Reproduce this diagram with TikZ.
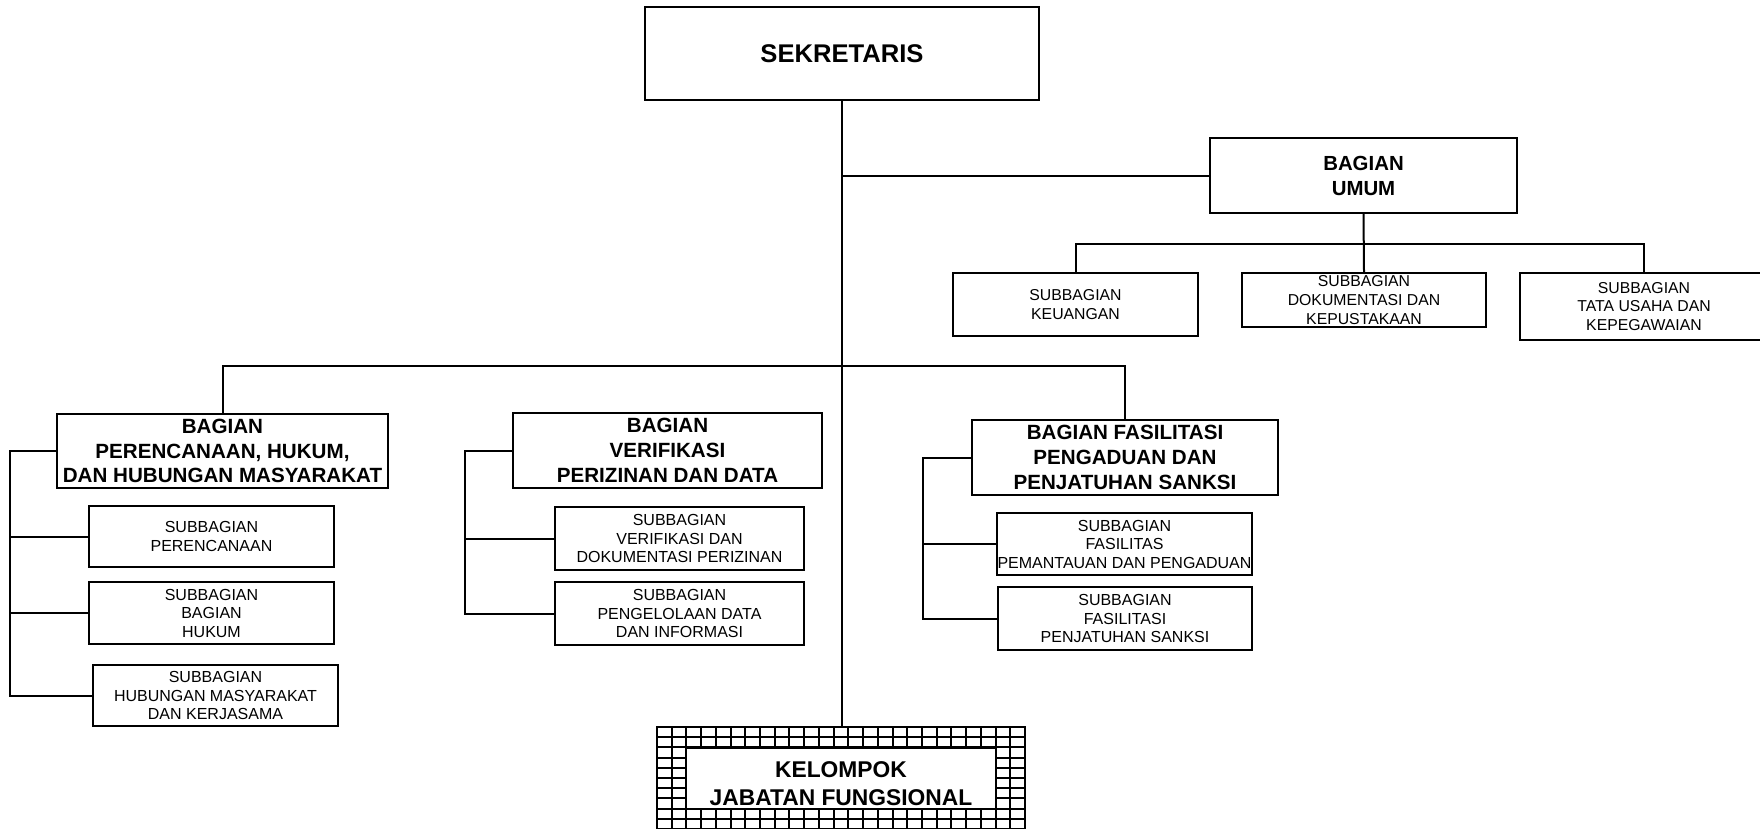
\documentclass[tikz,border=0pt]{standalone}
\usepackage{fontspec}
\setmainfont{Liberation Sans}
\begin{document}
\begin{tikzpicture}[x=0.5pt,y=-0.5pt,
  box/.style={draw, line width=1pt, inner sep=0pt, align=center},
  head/.style={box, font=\fontsize{10.3}{12.4}\selectfont\bfseries},
  sub/.style={box, font=\fontsize{8}{9.25}\selectfont},
  usub/.style={box, font=\fontsize{7.9}{9.4}\selectfont},
  conn/.style={line width=1pt},
  gridline/.style={line width=1pt}]
\path[use as bounding box] (0,0) rectangle (1760,829);
\clip (0,0) rectangle (1760,829);

% top
\node[box, minimum width=197pt, minimum height=46.5pt, font=\fontsize{12.8}{15}\selectfont\bfseries] (sek) at (842,53.5) {SEKRETARIS};

% Bagian Umum
\node[box, minimum width=153.5pt, minimum height=37.5pt, font=\fontsize{10.2}{12.5}\selectfont\bfseries] (umum) at (1363.5,175.5) {BAGIAN\\UMUM};
\node[usub, minimum width=122.5pt, minimum height=31.5pt] (keu) at (1075.5,304.5) {SUBBAGIAN\\KEUANGAN};
\node[usub, minimum width=122pt, minimum height=27pt] (dok) at (1364,300) {SUBBAGIAN\\DOKUMENTASI DAN\\KEPUSTAKAAN};
\node[usub, minimum width=124pt, minimum height=33.5pt] (tata) at (1644,306.5) {SUBBAGIAN\\TATA USAHA DAN\\KEPEGAWAIAN};

% Bagian Perencanaan
\node[head, minimum width=165.5pt, minimum height=37pt] (peren) at (222.5,451) {BAGIAN\\PERENCANAAN, HUKUM,\\DAN HUBUNGAN MASYARAKAT};
\node[sub, minimum width=122.5pt, minimum height=30.5pt] (sperenc) at (211.5,536.5) {SUBBAGIAN\\PERENCANAAN};
\node[sub, minimum width=122.5pt, minimum height=31pt] (shukum) at (211.5,613) {SUBBAGIAN\\BAGIAN\\HUKUM};
\node[sub, minimum width=122.5pt, minimum height=30.5pt] (shub) at (215.5,695.5) {SUBBAGIAN\\HUBUNGAN MASYARAKAT\\DAN KERJASAMA};

% Bagian Verifikasi
\node[head, minimum width=154.5pt, minimum height=37.5pt] (verif) at (667.5,450.5) {BAGIAN\\VERIFIKASI\\PERIZINAN DAN DATA};
\node[sub, minimum width=124.5pt, minimum height=31.5pt] (sverif) at (679.5,538.5) {SUBBAGIAN\\VERIFIKASI DAN\\DOKUMENTASI PERIZINAN};
\node[sub, minimum width=124.5pt, minimum height=31.5pt] (speng) at (679.5,613.5) {SUBBAGIAN\\PENGELOLAAN DATA\\DAN INFORMASI};

% Bagian Fasilitasi
\node[head, minimum width=153pt, minimum height=37.5pt] (fas) at (1125,457.5) {BAGIAN FASILITASI\\PENGADUAN DAN\\PENJATUHAN SANKSI};
\node[sub, minimum width=127.5pt, minimum height=31pt] (spem) at (1124.5,544) {SUBBAGIAN\\FASILITAS\\PEMANTAUAN DAN PENGADUAN};
\node[sub, minimum width=127pt, minimum height=31.5pt] (spenj) at (1125,618.5) {SUBBAGIAN\\FASILITASI\\PENJATUHAN SANKSI};

% Kelompok jabatan fungsional (grid frame)
\foreach \i in {0,...,25} \draw[gridline] ({657+\i*14.72},727) -- ({657+\i*14.72},840);
\foreach \j in {0,...,11} \draw[gridline] (657,{727+\j*10.2}) -- (1025,{727+\j*10.2});
\node[draw, line width=1pt, inner sep=0pt, minimum width=184pt, minimum height=86.5pt] (kjf) at (841,813.5) {};
\node[draw, fill=white, line width=1pt, inner sep=0pt, minimum width=155pt, minimum height=30.5pt] (kjfin) at (841,778.5) {};
\node[font=\fontsize{11.4}{14}\selectfont\bfseries, align=center, inner sep=0pt] (kjflabel) at ([yshift=-2.5pt]kjfin.center) {KELOMPOK\\JABATAN FUNGSIONAL};

% connectors
\coordinate (bus) at (842,366);
\coordinate (ubus) at (1364,244);
\coordinate (pl) at (10,451);
\coordinate (vl) at (465,451);
\coordinate (fl) at (923,457);

\draw[conn] (sek.south) -- (sek.south |- kjf.north);
\draw[conn] (sek.south |- umum.west) -- (umum.west);
\draw[conn] (umum.south) -- (dok.north);
\draw[conn] (keu.north) -- (keu.north |- ubus) -- (tata.north |- ubus) -- (tata.north);
\draw[conn] (peren.north) -- (peren.north |- bus) -- (fas.north |- bus) -- (fas.north);
\draw[conn] (peren.west) -- (pl |- peren.west) -- (pl |- shub.west) -- (shub.west);
\draw[conn] (pl |- sperenc.west) -- (sperenc.west);
\draw[conn] (pl |- shukum.west) -- (shukum.west);
\draw[conn] (verif.west) -- (vl |- verif.west) -- (vl |- speng.west) -- (speng.west);
\draw[conn] (vl |- sverif.west) -- (sverif.west);
\draw[conn] (fas.west) -- (fl |- fas.west) -- (fl |- spenj.west) -- (spenj.west);
\draw[conn] (fl |- spem.west) -- (spem.west);
\end{tikzpicture}
\end{document}
